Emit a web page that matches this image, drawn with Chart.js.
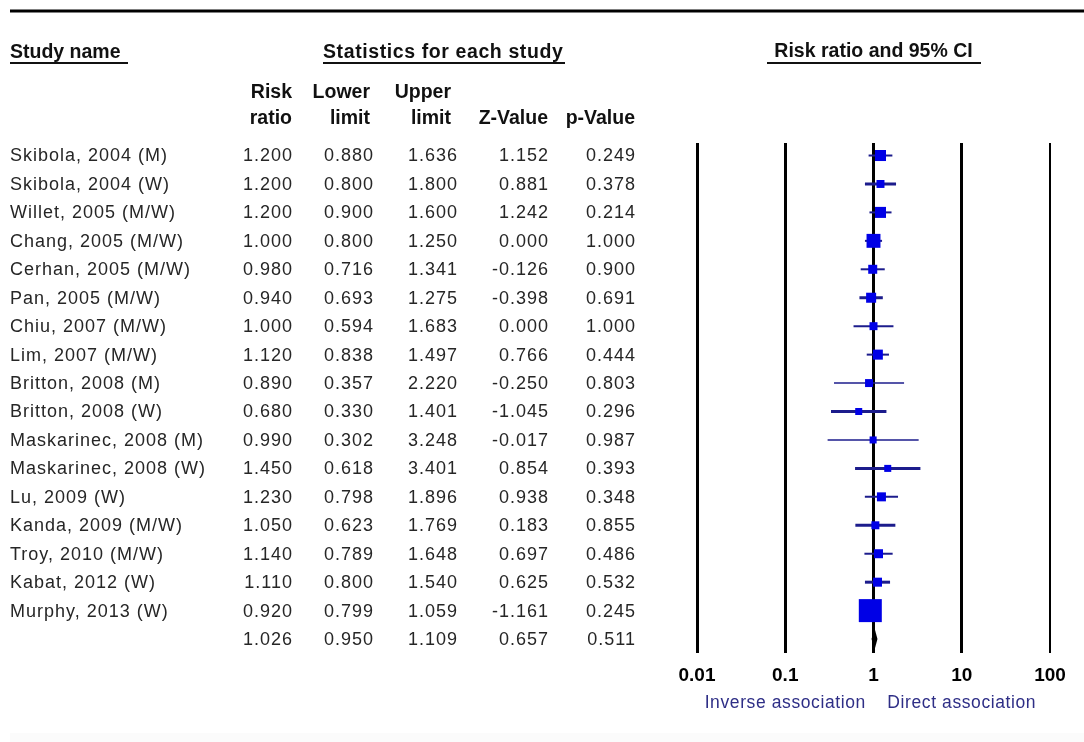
<!DOCTYPE html>
<html>
<head>
<meta charset="utf-8">
<script src="https://cdn.jsdelivr.net/npm/chart.js@4.4.1/dist/chart.umd.min.js"></script>
<style>
  html, body { margin: 0; padding: 0; background: #fff; }
  canvas { display: block; }
</style>
</head>
<body>
<canvas id="forestChart" width="1084" height="742"></canvas>
<script>
// study data
const studyNames = [
    'Skibola, 2004 (M)', 'Skibola, 2004 (W)', 'Willet, 2005 (M/W)', 'Chang, 2005 (M/W)',
    'Cerhan, 2005 (M/W)', 'Pan, 2005 (M/W)', 'Chiu, 2007 (M/W)', 'Lim, 2007 (M/W)',
    'Britton, 2008 (M)', 'Britton, 2008 (W)', 'Maskarinec, 2008 (M)', 'Maskarinec, 2008 (W)',
    'Lu, 2009 (W)', 'Kanda, 2009 (M/W)', 'Troy, 2010 (M/W)', 'Kabat, 2012 (W)', 'Murphy, 2013 (W)'
];
const riskRatio  = [1.200, 1.200, 1.200, 1.000, 0.980, 0.940, 1.000, 1.120, 0.890, 0.680, 0.990, 1.450, 1.230, 1.050, 1.140, 1.110, 0.920];
const lowerLimit = [0.880, 0.800, 0.900, 0.800, 0.716, 0.693, 0.594, 0.838, 0.357, 0.330, 0.302, 0.618, 0.798, 0.623, 0.789, 0.800, 0.799];
const upperLimit = [1.636, 1.800, 1.600, 1.250, 1.341, 1.275, 1.683, 1.497, 2.220, 1.401, 3.248, 3.401, 1.896, 1.769, 1.648, 1.540, 1.059];
const zValue     = [1.152, 0.881, 1.242, 0.000, -0.126, -0.398, 0.000, 0.766, -0.250, -1.045, -0.017, 0.854, 0.938, 0.183, 0.697, 0.625, -1.161];
const pValue     = [0.249, 0.378, 0.214, 1.000, 0.900, 0.691, 1.000, 0.444, 0.803, 0.296, 0.987, 0.393, 0.348, 0.855, 0.486, 0.532, 0.245];
// relative weights
const studyWeight = [6.9, 3.6, 6.9, 11, 4.6, 5.7, 3.6, 5.7, 3.6, 2.8, 2.8, 2.8, 4.6, 3.6, 4.6, 4.6, 30];
// pooled estimate: risk ratio, lower, upper, z, p
const pooledStats = [1.026, 0.950, 1.109, 0.657, 0.511];
const axisTicks = [0.01, 0.1, 1, 10, 100];
const axisNotes = ['Inverse association', 'Direct association'];

// styling
const ciWidths = [2, 3, 2, 2, 2, 3, 2, 2, 1.5, 3, 1.5, 3, 2, 3, 2, 3, 2];
const pooledRow = studyNames.length;
const FONT = '"Liberation Sans", Arial, sans-serif';
const colRight = [292, 373, 457, 548, 635];

const fmt = v => v.toFixed(3);

const forestTable = {
    id: 'forestTable',
    afterDatasetsDraw(chart) {
        const { ctx, scales: { x, y } } = chart;
        // pooled diamond
        const yc = y.getPixelForValue(pooledRow);
        const h = 11;
        ctx.save();
        ctx.fillStyle = '#000';
        ctx.beginPath();
        ctx.moveTo(x.getPixelForValue(pooledStats[1]), yc);
        ctx.lineTo(x.getPixelForValue(pooledStats[0]), yc - h);
        ctx.lineTo(x.getPixelForValue(pooledStats[2]), yc);
        ctx.lineTo(x.getPixelForValue(pooledStats[0]), yc + h);
        ctx.closePath();
        ctx.fill();
        ctx.restore();
    },
    afterDraw(chart) {
        const { ctx, scales: { x, y } } = chart;
        ctx.save();

        // thick rule at the top
        ctx.fillStyle = '#000';
        ctx.fillRect(10, 9.5, 1074, 3);

        // group headers
        ctx.font = 'bold 19.5px ' + FONT;
        ctx.textBaseline = 'middle';
        ctx.fillStyle = '#111';
        ctx.letterSpacing = '0px';
        ctx.textAlign = 'left';
        ctx.fillText('Study name', 10, 53);
        ctx.letterSpacing = '0.6px';
        ctx.fillText('Statistics for each study', 323, 53);
        ctx.letterSpacing = '0px';
        ctx.textAlign = 'center';
        ctx.fillText('Risk ratio and 95% CI', x.getPixelForValue(1), 52);
        ctx.fillRect(10, 62, 118, 2);
        ctx.fillRect(323, 62, 242, 2);
        ctx.fillRect(767, 62, 214, 2);

        // column headers
        ctx.textAlign = 'right';
        const head1 = ['Risk', 'Lower', 'Upper', '', ''];
        const head2 = ['ratio', 'limit', 'limit', 'Z-Value', 'p-Value'];
        const headShift = [0, 3, 6, 0, 0];
        head1.forEach((t, i) => ctx.fillText(t, colRight[i] - headShift[i], 93));
        head2.forEach((t, i) => ctx.fillText(t, colRight[i] - headShift[i], 119));

        // study rows
        ctx.font = '18px ' + FONT;
        ctx.fillStyle = '#262626';
        ctx.letterSpacing = '1px';
        studyNames.forEach((name, i) => {
            const yy = y.getPixelForValue(i) + 1;
            ctx.textAlign = 'left';
            ctx.fillText(name, 10, yy);
            ctx.textAlign = 'right';
            [riskRatio[i], lowerLimit[i], upperLimit[i], zValue[i], pValue[i]]
                .forEach((v, c) => ctx.fillText(fmt(v), colRight[c] + 1, yy));
        });
        const py = y.getPixelForValue(pooledRow) + 1;
        pooledStats.forEach((v, c) => ctx.fillText(fmt(v), colRight[c] + 1, py));

        // association notes under the axis
        ctx.font = '17.5px ' + FONT;
        ctx.fillStyle = '#2e2e86';
        ctx.letterSpacing = '0.6px';
        ctx.textAlign = 'center';
        ctx.fillText(axisNotes[0], x.getPixelForValue(0.1), 703);
        ctx.fillText(axisNotes[1], x.getPixelForValue(10), 703);

        // faint band at the bottom edge
        ctx.fillStyle = '#fbfbfb';
        ctx.fillRect(10, 733, 1074, 9);
        ctx.restore();
    }
};

document.addEventListener('DOMContentLoaded', function () {
    const ctx = document.getElementById('forestChart').getContext('2d');

    const markers = {
        label: 'Risk ratio',
        data: riskRatio.map((v, i) => ({ x: v, y: i })),
        pointStyle: 'rect',
        pointRadius: studyWeight.map(w => 4.2 * Math.sqrt(w) / Math.SQRT2),
        backgroundColor: '#0000e6',
        borderColor: '#0000e6',
        borderWidth: 0
    };

    const ciLines = studyNames.map((name, i) => ({
        label: name,
        data: [{ x: lowerLimit[i], y: i }, { x: upperLimit[i], y: i }],
        showLine: true,
        pointRadius: 0,
        borderColor: '#1c1c8c',
        borderWidth: ciWidths[i]
    }));

    new Chart(ctx, {
        type: 'scatter',
        data: { datasets: [markers, ...ciLines] },
        options: {
            responsive: false,
            animation: false,
            events: [],
            layout: { padding: { left: 697, right: 34, top: 143, bottom: 0 } },
            plugins: {
                legend: { display: false },
                tooltip: { enabled: false }
            },
            scales: {
                x: {
                    type: 'logarithmic',
                    min: 0.01,
                    max: 100,
                    afterBuildTicks: scale => { scale.ticks = axisTicks.map(v => ({ value: v })); },
                    afterFit: scale => { scale.height = 89; },
                    grid: {
                        color: '#000',
                        lineWidth: c => (c.tick && c.tick.value === 100 ? 2 : 3),
                        drawTicks: false
                    },
                    border: { display: false },
                    ticks: {
                        color: '#000',
                        font: { family: FONT, size: 19, weight: 'bold' },
                        padding: 11,
                        maxRotation: 0,
                        autoSkip: false,
                        callback: v => String(v)
                    }
                },
                y: {
                    display: false,
                    reverse: true,
                    min: -0.44,
                    max: 17.49
                }
            }
        },
        plugins: [forestTable]
    });
});
</script>
</body>
</html>
